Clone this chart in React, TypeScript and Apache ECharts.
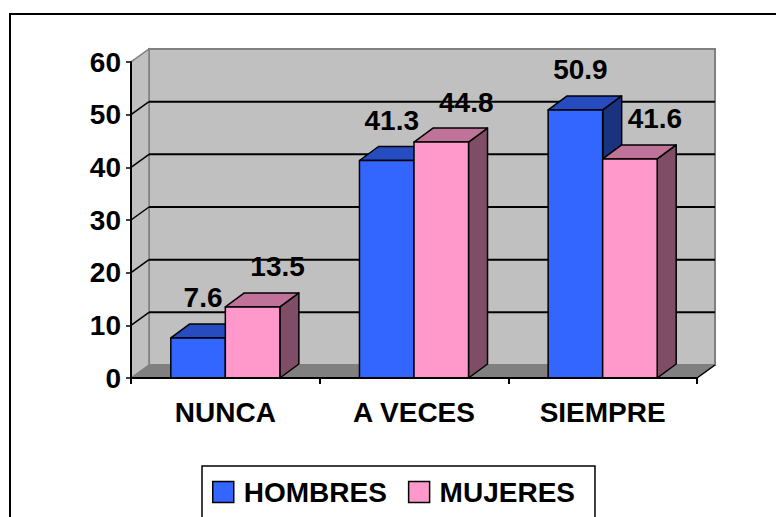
import React, { useEffect, useRef } from "react";
import * as echarts from "echarts";

const categories = ["NUNCA", "A VECES", "SIEMPRE"];
const hombres = [7.6, 41.3, 50.9];
const mujeres = [13.5, 44.8, 41.6];
const yTicks = [0, 10, 20, 30, 40, 50, 60];
const seriesNames = ["HOMBRES", "MUJERES"];

const FONT = "'Liberation Sans', Arial, sans-serif";
const WALL_DX = 18;
const WALL_DY = -13;
const BAR_DX = 19;
const BAR_DY = -14;
const BAR_FRAC = 0.289;
const LABEL_DX = [5, 25];

const faces = [
  { front: "#3366FF", top: "#264CBF", side: "#1A3380" },
  { front: "#FF99CC", top: "#BF7399", side: "#804D66" },
];

function wallsRender(params: any, api: any) {
  const cs = params.coordSys;
  const x0 = cs.x;
  const x1 = cs.x + cs.width;
  const yT = cs.y;
  const yB = cs.y + cs.height;
  const children: any[] = [];
  children.push({
    type: "rect",
    shape: { x: x0 + WALL_DX, y: yT + WALL_DY, width: x1 - x0, height: yB - yT },
    style: { fill: "#C0C0C0", stroke: "#808080", lineWidth: 2 },
  });
  children.push({
    type: "polygon",
    shape: { points: [[x0, yB], [x0, yT], [x0 + WALL_DX, yT + WALL_DY], [x0 + WALL_DX, yB + WALL_DY]] },
    style: { fill: "#C0C0C0", stroke: "#808080", lineWidth: 1.5 },
  });
  children.push({
    type: "polygon",
    shape: { points: [[x0, yB], [x0 + WALL_DX, yB + WALL_DY], [x1 + WALL_DX, yB + WALL_DY], [x1, yB]] },
    style: { fill: "#808080", stroke: "#808080", lineWidth: 1 },
  });
  children.push({
    type: "line",
    shape: { x1: x1, y1: yB, x2: x1 + WALL_DX, y2: yB + WALL_DY },
    style: { stroke: "#000", lineWidth: 1.5 },
  });
  yTicks.forEach((v) => {
    if (v === 0 || v === yTicks[yTicks.length - 1]) return;
    const y = api.coord([0, v])[1];
    children.push({
      type: "line",
      shape: { x1: x0 + WALL_DX, y1: y + WALL_DY, x2: x1 + WALL_DX, y2: y + WALL_DY },
      style: { stroke: "#000", lineWidth: 2 },
    });
    children.push({
      type: "line",
      shape: { x1: x0, y1: y, x2: x0 + WALL_DX, y2: y + WALL_DY },
      style: { stroke: "#000", lineWidth: 1.5 },
    });
  });
  return { type: "group", children };
}

function makeBarRender(sIdx: number) {
  return function (params: any, api: any) {
    const c = faces[sIdx];
    const cat = api.value(0);
    const val = api.value(1);
    const [cx, yTop] = api.coord([cat, val]);
    const yBase = api.coord([cat, 0])[1];
    const bw = api.size([1, 0])[0] * BAR_FRAC;
    const xl = sIdx === 0 ? cx - bw : cx;
    const xr = xl + bw;
    const stroke = { stroke: "#000", lineWidth: 1.5, lineJoin: "round" };
    return {
      type: "group",
      children: [
        {
          type: "polygon",
          shape: { points: [[xr, yTop], [xr + BAR_DX, yTop + BAR_DY], [xr + BAR_DX, yBase + BAR_DY], [xr, yBase]] },
          style: { fill: c.side, ...stroke },
        },
        {
          type: "polygon",
          shape: { points: [[xl, yTop], [xl + BAR_DX, yTop + BAR_DY], [xr + BAR_DX, yTop + BAR_DY], [xr, yTop]] },
          style: { fill: c.top, ...stroke },
        },
        {
          type: "rect",
          shape: { x: xl, y: yTop, width: bw, height: yBase - yTop },
          style: { fill: c.front, ...stroke },
        },
        {
          type: "text",
          style: {
            text: String(val),
            x: (xl + xr) / 2 + LABEL_DX[sIdx],
            y: yTop - 26,
            align: "center",
            verticalAlign: "bottom",
            fill: "#000",
            fontSize: 28,
            fontWeight: "bold",
            fontFamily: FONT,
          },
        },
      ],
    };
  };
}

export default function App() {
  const ref = useRef<HTMLDivElement>(null);
  useEffect(() => {
    const chart = echarts.init(ref.current!, null, { renderer: "svg" });
    const textStyle = { color: "#000", fontSize: 28, fontWeight: "bold" as const, fontFamily: FONT };
    chart.setOption({
      animation: false,
      color: [faces[0].front, faces[1].front],
      graphic: [
        {
          type: "rect",
          z: -10,
          shape: { x: 10, y: 14, width: 900, height: 700 },
          style: { fill: "none", stroke: "#000", lineWidth: 2 },
        },
      ],
      grid: { left: 131, top: 62, width: 566, height: 316 },
      xAxis: {
        type: "category",
        data: categories,
        z: 3,
        axisLine: { lineStyle: { color: "#000", width: 2 } },
        axisTick: { show: true, length: 6, lineStyle: { color: "#000", width: 2 } },
        axisLabel: { ...textStyle, margin: 20 },
        splitLine: { show: false },
      },
      yAxis: {
        type: "value",
        min: 0,
        max: 60,
        interval: 10,
        z: 3,
        axisLine: { show: true, lineStyle: { color: "#000", width: 2 } },
        axisTick: { show: true, length: 5, lineStyle: { color: "#000", width: 1.5 } },
        axisLabel: { ...textStyle, margin: 10 },
        splitLine: { show: false },
      },
      legend: {
        left: 202,
        top: 466,
        orient: "horizontal",
        data: seriesNames,
        icon: "rect",
        itemWidth: 21,
        itemHeight: 21,
        itemGap: 21,
        padding: [12, 20, 40, 10],
        borderColor: "#000",
        borderWidth: 1.5,
        backgroundColor: "#fff",
        itemStyle: { borderColor: "#000", borderWidth: 1.5 },
        textStyle: { ...textStyle, padding: [0, 0, 0, 5] },
      },
      series: [
        {
          type: "custom",
          name: "walls",
          z: 0,
          silent: true,
          coordinateSystem: "cartesian2d",
          renderItem: wallsRender,
          data: [[0, 0]],
        },
        {
          type: "custom",
          name: seriesNames[0],
          z: 2,
          coordinateSystem: "cartesian2d",
          itemStyle: { color: faces[0].front },
          renderItem: makeBarRender(0),
          data: hombres.map((v, i) => [i, v]),
        },
        {
          type: "custom",
          name: seriesNames[1],
          z: 2,
          coordinateSystem: "cartesian2d",
          itemStyle: { color: faces[1].front },
          renderItem: makeBarRender(1),
          data: mujeres.map((v, i) => [i, v]),
        },
      ],
    });
    return () => chart.dispose();
  }, []);
  return (
    <div
      ref={ref}
      style={{ position: "fixed", left: 0, top: 0, width: 776, height: 517, background: "#fff" }}
    />
  );
}
